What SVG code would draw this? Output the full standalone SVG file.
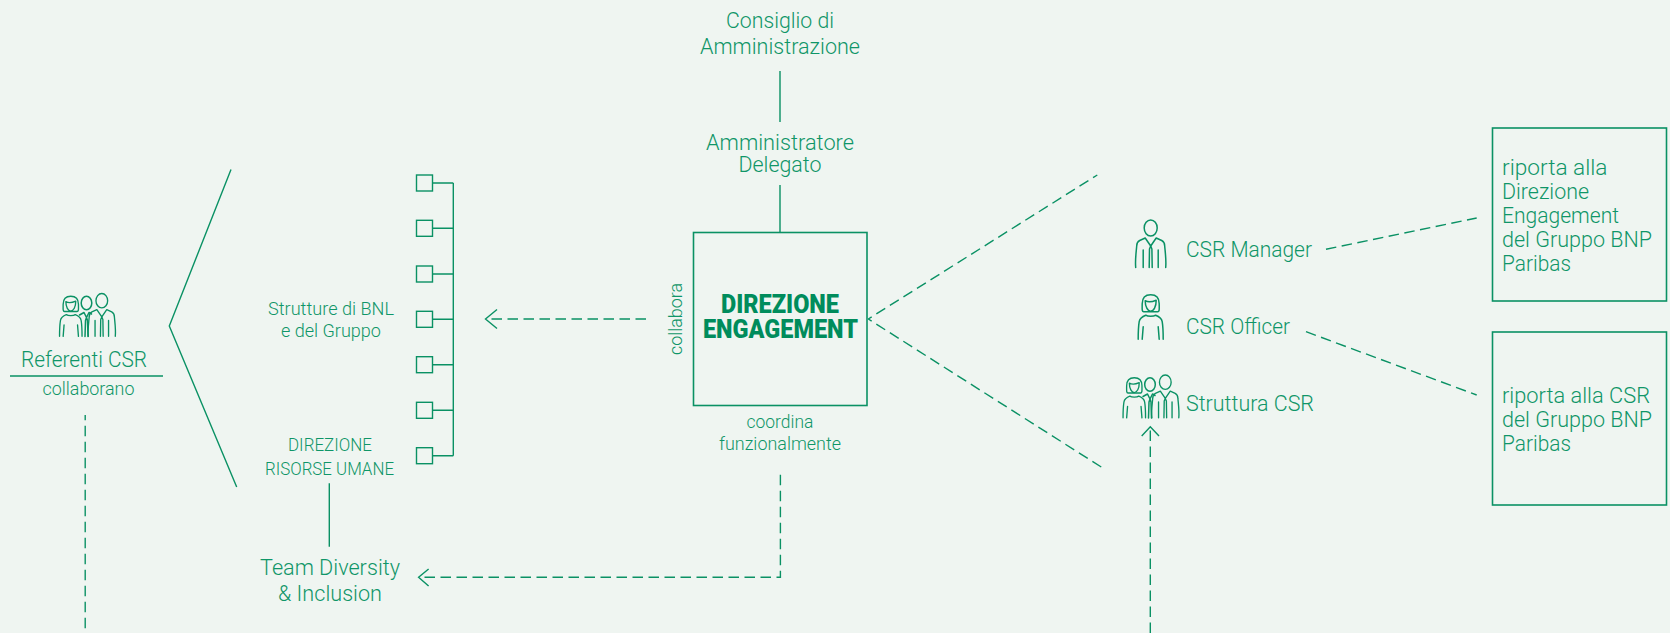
<svg xmlns="http://www.w3.org/2000/svg" width="1670" height="633" viewBox="0 0 1670 633">
<style>
text{font-family:"Roboto","Liberation Sans",sans-serif;font-weight:300;fill:#0f9668;text-anchor:middle}
.l{font-size:21.5px}
.m{font-size:17.5px}
.s{text-anchor:start}
.b{font-size:25px;font-weight:900;fill:#008c5c}
.ln,.d,.ic,.bx{fill:none;stroke:#0a9164}
.ln{stroke-width:1.4}
.bx{stroke-width:1.6}
.d{stroke-width:1.4;stroke-dasharray:10.5 5.5}
.ic{stroke-width:1.5;stroke-linecap:round;stroke-linejoin:round}
</style>
<defs>
<g id="man" class="ic">
<ellipse cx="0" cy="8" rx="6.5" ry="8"/>
<path d="M-15 47.5C-15.7 40-14.5 32-14 26C-14 23-13 21.5-11 20.5L-5.5 18L0 26L5.5 18L11 20.5C13 21.5 14 23 14 26C14.500 32 15.700 40 15 47.5"/>
<path d="M-7.500 30V47.500M7.500 30V47.500M-1.500 47.500L-1.200 29L0 26L1.200 29L1.500 47.500"/>
</g>
<g id="woman" class="ic">
<path d="M-7 17C-9 17-8.500 14-8.500 9C-8.500 3-5 0 0 0C5 0 8.500 3 8.500 9C8.500 14 9 17 7 17Z"/>
<path d="M-5.500 6C-3 7.500 2 7 5.500 5.500C5.500 12 3 16.500 0 16.500C-3 16.500-5.500 12-5.500 6Z"/>
<path d="M-12.500 44.600C-12.500 38-12 30-11.500 27C-11 24-9 22-5 20.500C-3 22 3 22 5 20.500C9 22 11 24 11.500 27C12 30 12.500 38 12.500 44.600"/>
<path d="M-7.500 32L-8.500 44.600M7.500 32L8.500 44.600"/>
</g>
<g id="team">
<use href="#woman" transform="translate(-15.700 2.700) scale(.9)"/>
<use href="#man" transform="translate(15.300 0) scale(.9)"/>
<g class="ic">
<ellipse cx="0" cy="9.500" rx="5.300" ry="6.800"/>
<path d="M-7 21.500L-2.500 19L0 24L2.500 19L5 20.500M-1.500 43L-1 27L0 24L1 27L1.500 43"/>
</g>
</g>
</defs>
<rect width="1670" height="633" fill="#eff5f1"/>
<g id="connectors">
<path class="ln" d="M780 71V122M780 185V232M329.300 483.300V546.700M231 169.500L169.300 326L236.700 487M10 376H163"/>
<path class="ln" d="M432.500 183H453.300M432.500 228.300H453.300M432.500 274H453.300M432.500 319.300H453.300M432.500 364.700H453.300M432.500 410.300H453.300M432.500 455.700H453.300M453.300 183V455.700"/>
<path class="d" d="M646 319H486"/>
<path class="ln" d="M497 309.500L485.500 319L497 328.500"/>
<path class="d" d="M780.400 474.700V577.300H420"/>
<path class="ln" d="M428.600 569L418.600 577.300L428.600 586"/>
<path class="d" d="M85.200 415V633" stroke-dashoffset="5.300"/>
<path class="d" d="M1150.300 633V429"/>
<path class="ln" d="M1141.700 436L1150.300 426.700L1159 436"/>
<path class="d" d="M868.300 319L1097.300 175" stroke-dashoffset="6.500"/>
<path class="d" d="M868.300 319L1101.700 467.300" stroke-dashoffset="6.500"/>
<path class="d" d="M1326 249.300L1476.700 218"/>
<path class="d" d="M1306 331.700L1476.700 395"/>
</g>
<g id="consiglio"><text class="l" x="780" y="28" textLength="108" lengthAdjust="spacingAndGlyphs">Consiglio di</text><text class="l" x="780" y="54" textLength="160" lengthAdjust="spacingAndGlyphs">Amministrazione</text></g>
<g id="ad"><text class="l" x="780" y="150" textLength="148" lengthAdjust="spacingAndGlyphs">Amministratore</text><text class="l" x="780" y="172" textLength="83" lengthAdjust="spacingAndGlyphs">Delegato</text></g>
<g id="engagement">
<rect class="bx" x="693.500" y="232.500" width="173.500" height="173"/>
<text class="b" x="780" y="312.700" textLength="118" lengthAdjust="spacingAndGlyphs">DIREZIONE</text>
<text class="b" x="780.500" y="338" textLength="155" lengthAdjust="spacingAndGlyphs">ENGAGEMENT</text>
</g>
<text class="m" transform="translate(681.700 319) rotate(-90)" textLength="72" lengthAdjust="spacingAndGlyphs">collabora</text>
<text class="m" x="780" y="428" textLength="67" lengthAdjust="spacingAndGlyphs">coordina</text>
<text class="m" x="780" y="450" textLength="122" lengthAdjust="spacingAndGlyphs">funzionalmente</text>
<g id="referenti">
<use href="#team" transform="translate(86.500 293.500)"/>
<text class="l" x="84" y="366.700" textLength="126" lengthAdjust="spacingAndGlyphs">Referenti CSR</text>
<text class="m" x="88.500" y="395" textLength="92" lengthAdjust="spacingAndGlyphs">collaborano</text>
</g>
<g id="strutture">
<rect class="ln" x="416.500" y="175" width="16" height="16"/>
<rect class="ln" x="416.500" y="220.300" width="16" height="16"/>
<rect class="ln" x="416.500" y="266" width="16" height="16"/>
<rect class="ln" x="416.500" y="311.300" width="16" height="16"/>
<rect class="ln" x="416.500" y="356.700" width="16" height="16"/>
<rect class="ln" x="416.500" y="402.300" width="16" height="16"/>
<rect class="ln" x="416.500" y="447.700" width="16" height="16"/>
<text class="m" x="331" y="315" textLength="126" lengthAdjust="spacingAndGlyphs">Strutture di BNL</text>
<text class="m" x="331" y="336.700" textLength="100" lengthAdjust="spacingAndGlyphs">e del Gruppo</text>
</g>
<g id="hr"><text class="m" x="330" y="451" textLength="84" lengthAdjust="spacingAndGlyphs">DIREZIONE</text><text class="m" x="329.500" y="475" textLength="129" lengthAdjust="spacingAndGlyphs">RISORSE UMANE</text></g>
<g id="diversity"><text class="l" x="330" y="575" textLength="140" lengthAdjust="spacingAndGlyphs">Team Diversity</text><text class="l" x="330" y="600.700" textLength="104" lengthAdjust="spacingAndGlyphs">&amp; Inclusion</text></g>
<g id="csr-manager"><use href="#man" transform="translate(1150.700 220)"/><text class="l s" x="1186" y="256.700" textLength="126" lengthAdjust="spacingAndGlyphs">CSR Manager</text></g>
<g id="csr-officer"><use href="#woman" transform="translate(1150.700 294.700)"/><text class="l s" x="1186" y="334" textLength="104" lengthAdjust="spacingAndGlyphs">CSR Officer</text></g>
<g id="struttura-csr"><use href="#team" transform="translate(1150 375)"/><text class="l s" x="1186" y="410.700" textLength="128" lengthAdjust="spacingAndGlyphs">Struttura CSR</text></g>
<g id="report-1">
<rect class="bx" x="1492.500" y="128" width="174" height="173"/>
<text class="l s" x="1502" y="175" textLength="105.500" lengthAdjust="spacingAndGlyphs">riporta alla</text>
<text class="l s" x="1502" y="199" textLength="87" lengthAdjust="spacingAndGlyphs">Direzione</text>
<text class="l s" x="1502" y="222.800" textLength="117" lengthAdjust="spacingAndGlyphs">Engagement</text>
<text class="l s" x="1502" y="246.700" textLength="150" lengthAdjust="spacingAndGlyphs">del Gruppo BNP</text>
<text class="l s" x="1502" y="271" textLength="69" lengthAdjust="spacingAndGlyphs">Paribas</text>
</g>
<g id="report-2">
<rect class="bx" x="1492.500" y="332" width="174" height="173"/>
<text class="l s" x="1502" y="402.700" textLength="148" lengthAdjust="spacingAndGlyphs">riporta alla CSR</text>
<text class="l s" x="1502" y="426.700" textLength="150" lengthAdjust="spacingAndGlyphs">del Gruppo BNP</text>
<text class="l s" x="1502" y="450.700" textLength="69" lengthAdjust="spacingAndGlyphs">Paribas</text>
</g>
</svg>
